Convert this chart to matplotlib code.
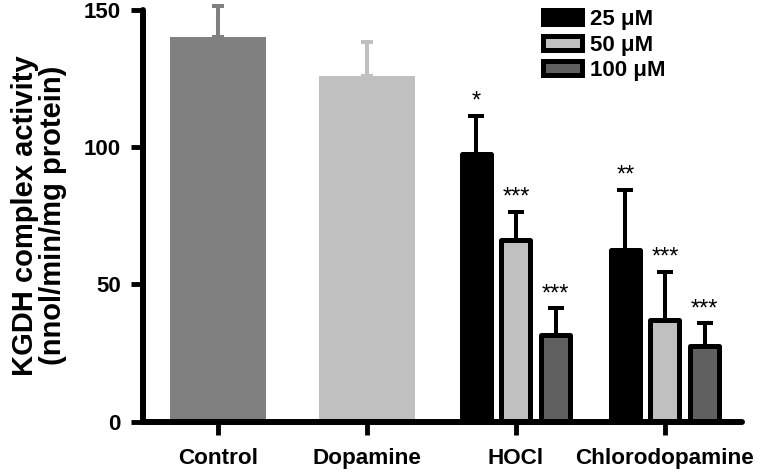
"""KGDH complex activity bar chart."""

import matplotlib
matplotlib.use("Agg")
import matplotlib.pyplot as plt
import numpy as np

plt.rcParams["font.family"] = ["Liberation Sans", "DejaVu Sans"]
plt.rcParams["font.weight"] = "bold"

# single-bar groups
single_labels = ["Control", "Dopamine"]
single_means = [140, 126]
single_err = [11.4, 12.4]
single_colors = ["#808080", "#c0c0c0"]

# treated groups, three concentrations each
treat_labels = ["HOCl", "Chlorodopamine"]
conc_labels = ["25 \u03bcM", "50 \u03bcM", "100 \u03bcM"]
conc_colors = ["#000000", "#c0c0c0", "#606060"]
hocl_means = [97.5, 66, 31.5]
hocl_err = [14, 10.5, 9.8]
chloro_means = [62.5, 37, 27.5]
chloro_err = [22, 17.6, 8.3]
hocl_stars = ["*", "***", "***"]
chloro_stars = ["**", "***", "***"]

W, H = 760, 474
fig = plt.figure(figsize=(W / 100, H / 100), dpi=100)
ax = fig.add_axes([143 / W, 1 - 421.5 / H, (742 - 143) / W, (421.5 - 10) / H])

x_single = np.arange(len(single_labels))
ax.bar(x_single, single_means, width=0.65, color=single_colors, zorder=2)
for xi, m, e, c in zip(x_single, single_means, single_err, single_colors):
    ax.errorbar(xi, m, yerr=[[0], [e]], fmt="none", ecolor=c, elinewidth=2.9,
                capsize=4.5, capthick=2.9, zorder=1, clip_on=False)

x_treat = np.arange(len(treat_labels)) + len(single_labels)
width = 0.195
offset = 0.266
handles = []
for i, (color, label) in enumerate(zip(conc_colors, conc_labels)):
    means = [hocl_means[i], chloro_means[i]]
    errs = [hocl_err[i], chloro_err[i]]
    stars = [hocl_stars[i], chloro_stars[i]]
    xs = x_treat + (i - 1) * offset
    bars = ax.bar(xs, means, width=width, color=color, edgecolor="black",
                  linewidth=3.6, joinstyle="round", label=label, zorder=2)
    handles.append(bars)
    ax.errorbar(xs, means, yerr=[np.zeros(len(errs)), errs], fmt="none",
                ecolor="black", elinewidth=2.9, capsize=5.5, capthick=2.9,
                zorder=1)
    for xv, m, e, s in zip(xs, means, errs, stars):
        ax.annotate(s, (xv, m + e), xytext=(0, 2), textcoords="offset points",
                    ha="center", va="bottom", fontsize=17, fontweight="normal")

ax.set_xlim(-0.503, 3.517)
ax.set_ylim(0, 150)
ax.set_yticks([0, 50, 100, 150])
ax.set_xticks(np.concatenate([x_single, x_treat]))
ax.set_xticklabels(single_labels + treat_labels, fontsize=16.2, fontweight="bold")
ax.tick_params(axis="y", labelsize=16, width=3.5, length=9, pad=7)
ax.tick_params(axis="x", width=3.5, length=9, pad=10)
for lbl in ax.get_yticklabels():
    lbl.set_fontweight("bold")

for side in ["top", "right"]:
    ax.spines[side].set_visible(False)
for side in ["left", "bottom"]:
    ax.spines[side].set_linewidth(4.3)
    ax.spines[side].set_capstyle("round")

ax.set_ylabel("KGDH complex activity\n(nnol/min/mg protein)", fontsize=21,
              fontweight="bold", linespacing=1.0, labelpad=12)

fig.legend(handles=handles, labels=conc_labels, loc="upper left",
           bbox_to_anchor=(532 / W, 1 + 2 / H), frameon=False, fontsize=16,
           borderpad=0, handlelength=1.75, handleheight=0.6,
           handletextpad=0.35, labelspacing=0.2)

fig.savefig("out.png", dpi=100)
